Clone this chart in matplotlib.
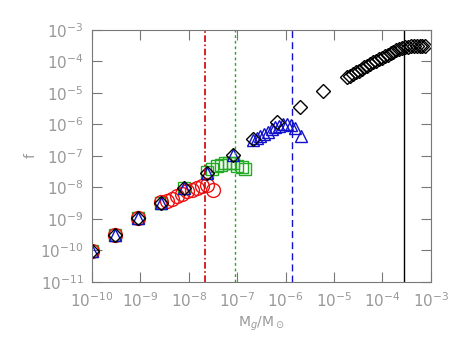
import numpy as np
import matplotlib
matplotlib.use("Agg")
import matplotlib.pyplot as plt

# log10 values
# black diamonds
dia_logm = [-10.00, -9.53, -9.05, -8.58, -8.10, -7.63, -7.09, -6.68, -6.18, -5.70, -5.22,
            -4.73, -4.67, -4.61, -4.55, -4.49, -4.43, -4.37, -4.31, -4.25, -4.19,
            -4.13, -4.07, -4.01, -3.95, -3.89, -3.83, -3.77, -3.71, -3.65, -3.59,
            -3.53, -3.47, -3.41, -3.35, -3.29, -3.23, -3.17, -3.11]
dia_logf = [-10.01, -9.50, -8.99, -8.51, -8.01, -7.53, -6.96, -6.48, -5.94, -5.46, -4.95,
            -4.50, -4.45, -4.40, -4.35, -4.29, -4.23, -4.18, -4.13, -4.08, -4.03,
            -3.98, -3.93, -3.88, -3.83, -3.78, -3.73, -3.69, -3.65, -3.61, -3.58,
            -3.55, -3.53, -3.52, -3.51, -3.50, -3.50, -3.50, -3.51]

# blue triangles
tri_logm = [-10.00, -9.53, -9.05, -8.58, -8.10, -7.63, -7.09,
            -6.67, -6.60, -6.53, -6.45, -6.37, -6.29, -6.21, -6.13, -6.05, -5.97, -5.89, -5.80, -5.69]
tri_logf = [-10.01, -9.50, -8.99, -8.51, -8.01, -7.53, -6.96,
            -6.50, -6.44, -6.38, -6.30, -6.23, -6.16, -6.09, -6.04, -6.00, -5.99, -6.01, -6.12, -6.38]

# green squares
sq_logm = [-10.00, -9.53, -9.05, -8.58, -8.10,
           -7.62, -7.51, -7.42, -7.34, -7.25, -7.17, -7.08, -7.00, -6.91, -6.84]
sq_logf = [-10.01, -9.50, -8.99, -8.51, -8.01,
           -7.51, -7.41, -7.33, -7.28, -7.24, -7.22, -7.24, -7.31, -7.35, -7.41]

# red circles
circ_logm = [-10.00, -9.53, -9.05,
             -8.57, -8.45, -8.35, -8.25, -8.14, -8.04, -7.94, -7.83, -7.73, -7.63, -7.50]
circ_logf = [-10.01, -9.50, -8.99,
             -8.48, -8.42, -8.36, -8.29, -8.21, -8.13, -8.07, -8.01, -7.96, -7.94, -8.10]

# vertical lines
vline_red = 2.2e-8
vline_green = 9.0e-8
vline_blue = 1.34e-6
vline_black = 2.8e-4

gray = '#999999'

fig = plt.figure(figsize=(4.58, 3.44), dpi=100)
ax = fig.add_axes([0.2009, 0.1811, 0.7395, 0.7317])

ax.plot(10**np.array(sq_logm), 10**np.array(sq_logf), 's', ms=8, mfc='none', mec='#22aa22', mew=1)
ax.plot(10**np.array(circ_logm), 10**np.array(circ_logf), 'o', ms=10, mfc='none', mec='#ee1111', mew=1)
ax.plot(10**np.array(tri_logm), 10**np.array(tri_logf), '^', ms=9, mfc='none', mec='#1111cc', mew=1)
ax.plot(10**np.array(dia_logm), 10**np.array(dia_logf), 'D', ms=7.5, mfc='none', mec='black', mew=1)

ax.axvline(vline_red, color='#cc0000', ls=(0, (4, 1.5, 1, 1.5)), lw=1.2)
ax.axvline(vline_green, color='#22aa22', ls=(0, (2, 2)), lw=1)
ax.axvline(vline_blue, color='#1111cc', ls=(0, (5, 3)), lw=1)
ax.axvline(vline_black, color='black', ls='-', lw=1)

ax.set_xscale('log')
ax.set_yscale('log')
ax.set_xlim(1e-10, 1e-3)
ax.set_ylim(1e-11, 1e-3)
ax.set_xticks([10.0**k for k in range(-10, -2)])
ax.set_yticks([10.0**k for k in range(-11, -2)])

for s in ax.spines.values():
    s.set_color('#777777')
ax.tick_params(which='both', direction='in', top=True, right=True, colors='#777777',
               labelcolor=gray, labelsize=11)
ax.tick_params(which='major', length=7)
ax.tick_params(which='minor', length=3)
ax.tick_params(axis='x', pad=7)
ax.tick_params(axis='y', pad=6)

ax.set_xlabel(r'M$_g$/M$_\odot$', color=gray, fontsize=10, labelpad=3)
ax.set_ylabel('f', color=gray, fontsize=10, rotation=90)
ax.yaxis.set_label_coords(-0.16, 0.5)

fig.savefig('out.png', dpi=100)
